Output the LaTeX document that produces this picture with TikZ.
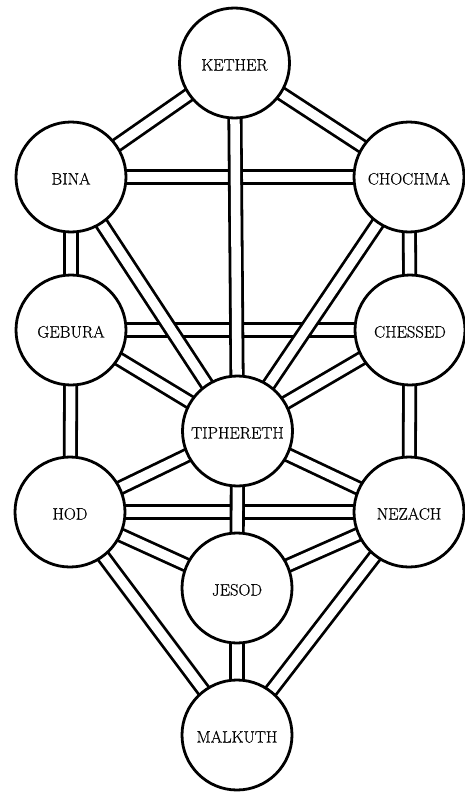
\documentclass[tikz,border=0pt]{standalone}
\usepackage{fontspec}
\newfontfamily\sephfont{Latin Modern Roman}[FakeBold=0.5]
\usetikzlibrary{backgrounds}
\begin{document}
\begin{tikzpicture}[x=1pt,y=-1pt,
  sephira/.style={circle,draw=black,fill=white,line width=2.8pt,minimum size=110pt,inner sep=0pt,
    text height=15pt,text depth=0pt,font=\sephfont\fontsize{16.5}{19}\selectfont},
  path22/.style={draw=black,line width=2.8pt,double=white,double distance=9.5pt}]
\useasboundingbox (0,0) rectangle (465,792);

% the ten sephiroth
\node[sephira] (kether)    at (234.5,63)  {KETHER};
\node[sephira] (bina)      at (71,177)    {BINA};
\node[sephira] (chochma)   at (409,177)   {CHOCHMA};
\node[sephira] (gebura)    at (71,330)    {GEBURA};
\node[sephira] (chessed)   at (410,330)   {CHESSED};
\node[sephira] (tiphereth) at (237.5,431) {TIPHERETH};
\node[sephira] (hod)       at (70,512)    {HOD};
\node[sephira] (nezach)    at (409,512)   {NEZACH};
\node[sephira] (jesod)     at (237,588)   {JESOD};
\node[sephira] (malkuth)   at (237,735)   {MALKUTH};

% the twenty-two paths, behind the circles; later paths lie over earlier ones
\begin{scope}[on background layer]
  % horizontals first
  \draw[path22] (bina.center) -- (chochma.center);
  \draw[path22] (gebura.center) -- (chessed.center);
  \draw[path22] (hod.center) -- (nezach.center);
  % outer pillars
  \draw[path22] (bina.center) -- (gebura.center);
  \draw[path22] (gebura.center) -- (hod.center);
  \draw[path22] (chochma.center) -- (chessed.center);
  \draw[path22] (chessed.center) -- (nezach.center);
  % upper triangle
  \draw[path22] (kether.center) -- (bina.center);
  \draw[path22] (kether.center) -- (chochma.center);
  % diagonals into tiphereth
  \draw[path22] (gebura.center) -- (tiphereth.center);
  \draw[path22] (chessed.center) -- (tiphereth.center);
  \draw[path22] (hod.center) -- (tiphereth.center);
  \draw[path22] (nezach.center) -- (tiphereth.center);
  \draw[path22] (bina.center) -- (tiphereth.center);
  \draw[path22] (chochma.center) -- (tiphereth.center);
  % lower paths
  \draw[path22] (hod.center) -- (jesod.center);
  \draw[path22] (nezach.center) -- (jesod.center);
  \draw[path22] (hod.center) -- (malkuth.center);
  \draw[path22] (nezach.center) -- (malkuth.center);
  \draw[path22] (jesod.center) -- (malkuth.center);
  % middle pillar on top
  \draw[path22] (kether.center) -- (tiphereth.center);
  \draw[path22] (tiphereth.center) -- (jesod.center);
\end{scope}
\end{tikzpicture}
\end{document}
